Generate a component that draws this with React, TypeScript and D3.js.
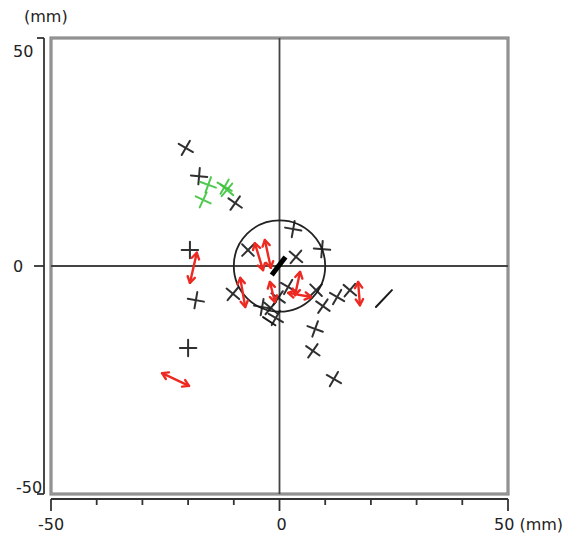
import * as d3 from "d3";

const W = 581;
const H = 540;

// axis ticks (mm)
const labelTicks = [-50, 0, 50];
const minorTicks = [-50, -40, -30, -20, -10, 0, 10, 20, 30, 40, 50];

// black crosses: [x mm, y mm, rotation deg]
const blackCrosses = [
  [-20.5, 25.9, 30], [-17.6, 19.7, 5], [-9.7, 13.8, 35], [-19.6, 3.5, 0],
  [-18.3, -7.5, 10], [-20.0, -18.0, 0], [-10.2, -6.1, 40], [-6.9, 3.5, 45],
  [3.0, 8.1, 10], [9.3, 3.7, 5], [3.6, 2.0, 40], [-0.3, -7.0, 35],
  [1.9, -4.6, 30], [-1.9, -9.2, 40], [-0.8, -11.4, 30], [-3.8, -9.0, 10],
  [8.0, -5.3, 45], [9.5, -8.8, 35], [12.6, -6.8, 30], [15.4, -5.3, 40],
  [7.8, -13.8, 20], [7.3, -18.6, 35], [11.9, -24.8, 30],
];

// green crosses: [x mm, y mm, rotation deg]
const greenCrosses = [
  [-15.6, 17.8, 20], [-16.7, 14.5, 25], [-11.5, 16.7, 40], [-12.0, 17.4, 30],
];

// red double arrows: [x1, y1, x2, y2] mm
const redArrows = [
  [-18.1, 2.9, -19.6, -3.7], [-25.7, -23.5, -19.8, -26.3],
  [-5.4, 5.0, -3.6, -0.9], [-3.2, 5.7, -1.9, -0.4],
  [-8.6, -2.6, -7.5, -9.0], [-2.1, -3.5, -1.0, -7.9],
  [4.5, -1.3, 3.4, -6.4], [1.9, -5.9, 6.9, -6.8],
  [17.2, -3.5, 17.6, -8.6],
];

// loose black strokes: [x1, y1, x2, y2] mm
const blackLines = [
  [21.1, -9.0, 24.6, -5.3], [-3.6, -11.2, -0.9, -13.0],
];

// thick center vector [x1, y1, x2, y2] mm
const thickLine = [1.3, 2.0, -1.7, -2.0];
const circleR = 10;

const CROSS_HALF = 1.8;

export default function App() {
  const x = d3.scaleLinear().domain([-50, 50]).range([51, 508]);
  const y = d3.scaleLinear().domain([-50, 50]).range([494, 38]);
  const k = x(1) - x(0);
  const axisX = 44;
  const axisY = 499;
  const font = "'DejaVu Sans', sans-serif";

  const cross = (d: number[], color: string, i: number) => {
    const [cx, cy, a] = d;
    const px = x(cx), py = y(cy);
    const r = CROSS_HALF * k;
    return (
      <g key={i} transform={`translate(${px},${py}) rotate(${a})`} stroke={color} strokeWidth={2} strokeLinecap="round" opacity={0.9}>
        <line x1={-r} y1={0} x2={r} y2={0} />
        <line x1={0} y1={-r} x2={0} y2={r} />
      </g>
    );
  };

  const arrow = (d: number[], i: number) => {
    const [x1, y1, x2, y2] = d;
    const p1 = [x(x1), y(y1)], p2 = [x(x2), y(y2)];
    const ang = Math.atan2(p2[1] - p1[1], p2[0] - p1[0]);
    const hl = 7, ha = 0.55;
    const head = (p: number[], dir: number) => {
      const a1 = dir + Math.PI - ha, a2 = dir + Math.PI + ha;
      return `M${p[0] + hl * Math.cos(a1)},${p[1] + hl * Math.sin(a1)}L${p[0]},${p[1]}L${p[0] + hl * Math.cos(a2)},${p[1] + hl * Math.sin(a2)}`;
    };
    return (
      <g key={i} stroke="#ec2a22" strokeWidth={2.4} fill="none" strokeLinecap="round" strokeLinejoin="round">
        <line x1={p1[0]} y1={p1[1]} x2={p2[0]} y2={p2[1]} />
        <path d={head(p2, ang)} />
        <path d={head(p1, ang + Math.PI)} />
      </g>
    );
  };

  return (
    <svg width={W} height={H} style={{ position: "absolute", left: 0, top: 0, background: "#fff" }}>
      {/* frame, double line look */}
      <rect x={x(-50)} y={y(50)} width={x(50) - x(-50)} height={y(-50) - y(50)} fill="none" stroke="#777" strokeWidth={3} />
      <rect x={x(-50)} y={y(50)} width={x(50) - x(-50)} height={y(-50) - y(50)} fill="none" stroke="#bbb" strokeWidth={0.8} />
      {/* center lines */}
      <line x1={x(0)} x2={x(0)} y1={y(50)} y2={y(-50)} stroke="#444" strokeWidth={1.8} />
      <line x1={x(-50)} x2={x(50)} y1={y(0)} y2={y(0)} stroke="#444" strokeWidth={1.8} />

      {/* y axis */}
      <line x1={axisX} x2={axisX} y1={y(50)} y2={y(-50)} stroke="#333" strokeWidth={1.8} />
      {labelTicks.map((t) => (
        <line key={t} x1={axisX - (t === 0 ? 10 : 7)} x2={axisX} y1={y(t)} y2={y(t)} stroke="#333" strokeWidth={1.8} />
      ))}
      <text x={13} y={57} fontFamily={font} fontSize={16} fill="#222">50</text>
      <text x={13} y={272} fontFamily={font} fontSize={16} fill="#222">0</text>
      <text x={16} y={493} fontFamily={font} fontSize={16} fill="#222">-50</text>
      <text x={24} y={22} fontFamily={font} fontSize={16} fill="#222">(mm)</text>

      {/* x axis */}
      <line x1={x(-50)} x2={x(50)} y1={axisY} y2={axisY} stroke="#333" strokeWidth={1.8} />
      {minorTicks.map((t) => (
        <line key={t} x1={x(t)} x2={x(t)} y1={axisY} y2={axisY + (labelTicks.includes(t) ? 12 : 6)} stroke="#333" strokeWidth={1.8} />
      ))}
      <text x={x(-50)} y={530} textAnchor="middle" fontFamily={font} fontSize={16} fill="#222">-50</text>
      <text x={x(0) + 2} y={530} textAnchor="middle" fontFamily={font} fontSize={16} fill="#222">0</text>
      <text x={x(50) - 14} y={530} fontFamily={font} fontSize={16} fill="#222">50 (mm)</text>

      {/* circle */}
      <circle cx={x(0)} cy={y(0)} r={circleR * k} fill="none" stroke="#222" strokeWidth={1.8} />

      {/* marks */}
      {blackCrosses.map((d, i) => cross(d, "#1a1a1a", i))}
      {blackLines.map((d, i) => (
        <line key={i} x1={x(d[0])} y1={y(d[1])} x2={x(d[2])} y2={y(d[3])} stroke="#1a1a1a" strokeWidth={2} strokeLinecap="round" />
      ))}
      {greenCrosses.map((d, i) => cross(d, "#3cc43c", i))}
      {redArrows.map((d, i) => arrow(d, i))}
      <line x1={x(thickLine[0])} y1={y(thickLine[1])} x2={x(thickLine[2])} y2={y(thickLine[3])} stroke="#000" strokeWidth={5} />
    </svg>
  );
}
